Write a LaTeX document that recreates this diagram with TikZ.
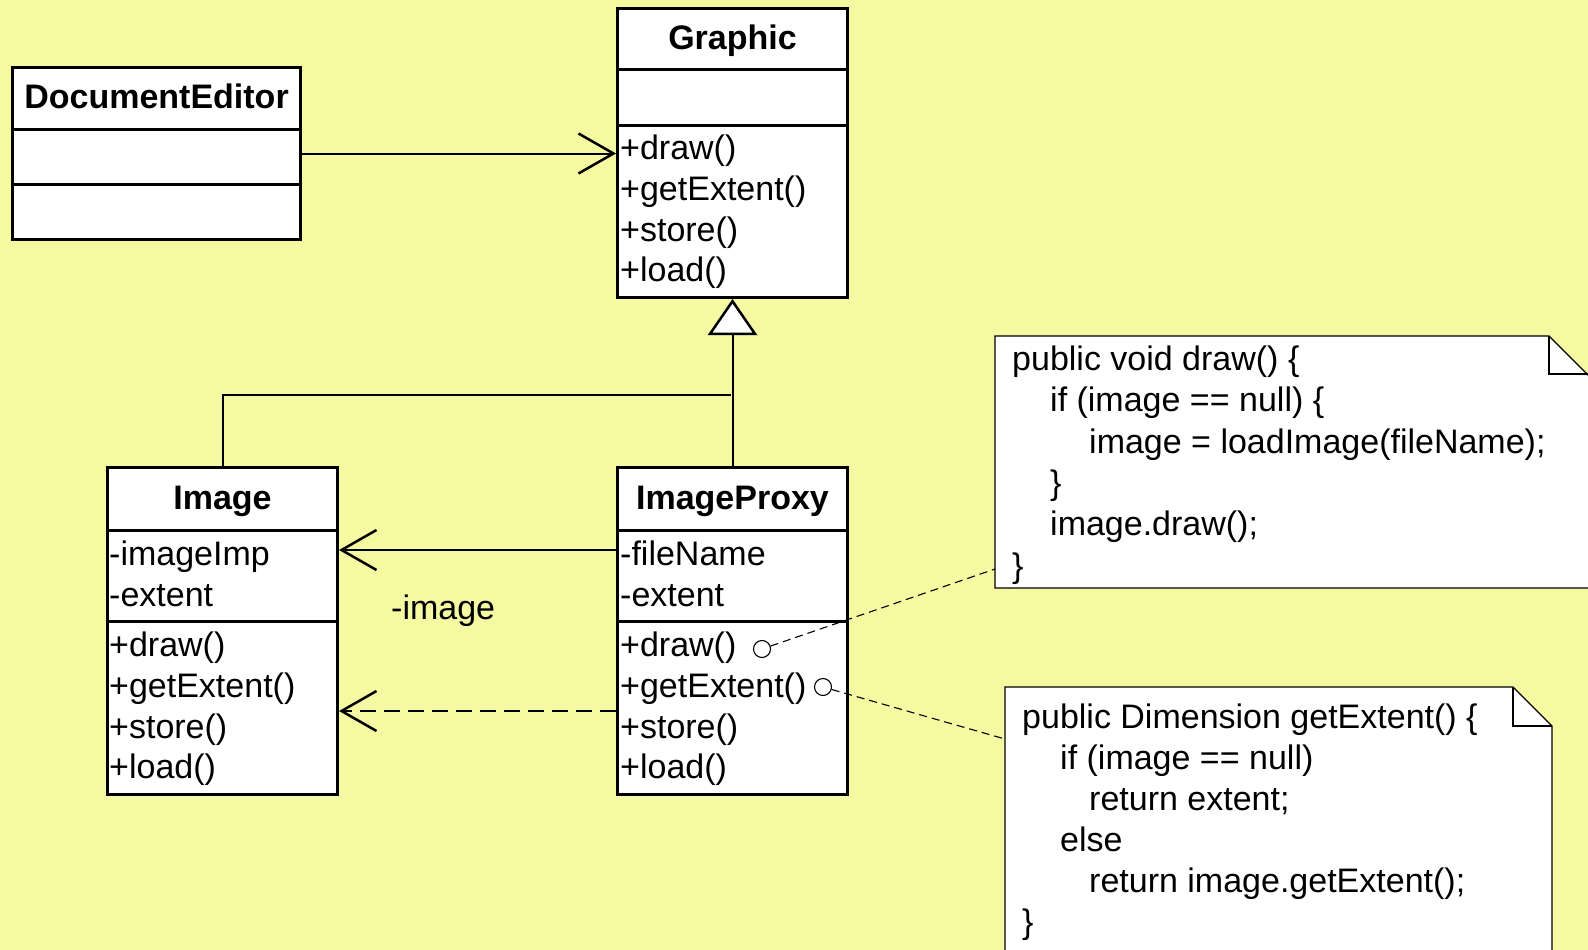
\documentclass[tikz,border=0pt]{standalone}
\usepackage{fontspec}
\setmainfont{Liberation Sans}
\usetikzlibrary{arrows.meta,calc}
\definecolor{paper}{RGB}{244,249,162}

\begin{document}
\begin{tikzpicture}[x=1pt,y=-1pt,
  classbox/.style={draw, line width=3pt, fill=white, inner sep=0pt, anchor=north west},
  divider/.style={line width=3pt},
  ctitle/.style={font=\bfseries\fontsize{34}{40}\selectfont, anchor=base, inner sep=0pt},
  member/.style={font=\fontsize{34}{40}\selectfont, anchor=base west, inner sep=0pt},
  codeline/.style={font=\fontsize{34}{41}\selectfont, anchor=base west, inner sep=0pt},
  link/.style={line width=2pt},
  assoc/.style={link, -{Straight Barb[length=35pt,width=40pt,line width=2.5pt]}},
  depend/.style={assoc, dash pattern=on 16pt off 8pt},
  generalize/.style={link, -{Triangle[length=36pt,width=49pt,fill=white,line width=2.5pt]}},
  notebox/.style={draw, fill=white, line width=1.2pt},
  notelink/.style={line width=1.1pt, dash pattern=on 8pt off 5pt},
  port/.style={circle, draw, line width=1.1pt, minimum size=17pt, inner sep=0pt}
]
\useasboundingbox (0,0) rectangle (1588,950);
\fill[paper] (0,0) rectangle (1588,950);

% --- DocumentEditor
\node[classbox, minimum width=288pt, minimum height=172pt] (de) at (11,66) {};
\draw[divider] (de.west |- 0,129) -- (de.east |- 0,129);
\draw[divider] (de.west |- 0,184) -- (de.east |- 0,184);
\node[ctitle] (deT) at (de.north |- 0,108) {DocumentEditor};

% --- Graphic
\node[classbox, minimum width=230pt, minimum height=289pt] (g) at (616,7) {};
\draw[divider] (g.west |- 0,70) -- (g.east |- 0,70);
\draw[divider] (g.west |- 0,125) -- (g.east |- 0,125);
\node[ctitle] (gT) at (g.north |- 0,50) {Graphic};
\node[member] (g1) at (620,159) {+draw()};
\node[member] (g2) at (620,200) {+getExtent()};
\node[member] (g3) at (620,241) {+store()};
\node[member] (g4) at (620,281) {+load()};

% --- Image
\node[classbox, minimum width=230pt, minimum height=327pt] (img) at (106,466) {};
\draw[divider] (img.west |- 0,530) -- (img.east |- 0,530);
\draw[divider] (img.west |- 0,621) -- (img.east |- 0,621);
\node[ctitle] (imgT) at (img.north |- 0,509) {Image};
\node[member] (ia1) at (109,565) {-imageImp};
\node[member] (ia2) at (109,606) {-extent};
\node[member] (i1) at (109,656) {+draw()};
\node[member] (i2) at (109,697) {+getExtent()};
\node[member] (i3) at (109,738) {+store()};
\node[member] (i4) at (109,778) {+load()};

% --- ImageProxy
\node[classbox, minimum width=230pt, minimum height=327pt] (px) at (616,466) {};
\draw[divider] (px.west |- 0,530) -- (px.east |- 0,530);
\draw[divider] (px.west |- 0,621) -- (px.east |- 0,621);
\node[ctitle] (pxT) at (px.north |- 0,509) {ImageProxy};
\node[member] (pa1) at (620,565) {-fileName};
\node[member] (pa2) at (620,606) {-extent};
\node[member] (p1) at (620,656) {+draw()};
\node[member] (p2) at (620,697) {+getExtent()};
\node[member] (p3) at (620,738) {+store()};
\node[member] (p4) at (620,778) {+load()};
\node[port] (c1) at (762,649) {};
\node[port] (c2) at (823,687) {};

% --- relations
\draw[assoc] (de.east) -- (de.east -| g.west);
\coordinate (join) at (731,395);
\draw[generalize] (px.north) -- (g.south);
\draw[link] (img.north) |- (join);
\draw[assoc] (px.west |- 0,550) -- (img.east |- 0,550);
\node[member] (role) at (391,619) {-image};
\draw[depend] (px.west |- 0,711) -- (img.east |- 0,711);

% --- note on draw()
\draw[notebox] (995,336) -- (1549,336) -- (1600,387) -- (1600,588) -- (995,588) -- cycle;
\draw[line width=1.2pt] (1549,336) -- (1549,374) -- (1588,374);
\coordinate (n1) at (995,569);
\node[codeline] (a1) at (1012,370) {public void draw() \{};
\node[codeline] (a2) at (1050,411) {if (image == null) \{};
\node[codeline] (a3) at (1089,453) {image = loadImage(fileName);};
\node[codeline] (a4) at (1050,494) {\}};
\node[codeline] (a5) at (1050,535) {image.draw();};
\node[codeline] (a6) at (1012,577) {\}};

% --- note on getExtent()
\draw[notebox] (1005,687) -- (1513,687) -- (1552,726) -- (1552,960) -- (1005,960) -- cycle;
\draw[line width=1.2pt] (1513,687) -- (1513,726) -- (1552,726);
\coordinate (n2) at (1005,739);
\node[codeline] (b1) at (1022,728) {public Dimension getExtent() \{};
\node[codeline] (b2) at (1060,769) {if (image == null)};
\node[codeline] (b3) at (1089,810) {return extent;};
\node[codeline] (b4) at (1060,851) {else};
\node[codeline] (b5) at (1089,892) {return image.getExtent();};
\node[codeline] (b6) at (1022,933) {\}};

\draw[notelink] (c1) -- (n1);
\draw[notelink] (c2) -- (n2);
\end{tikzpicture}
\end{document}
